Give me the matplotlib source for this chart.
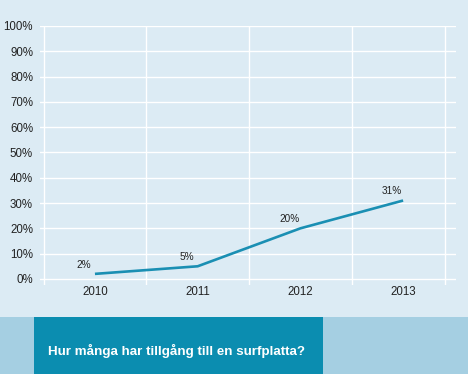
import matplotlib
matplotlib.use("Agg")
import matplotlib.pyplot as plt
from matplotlib.patches import Rectangle

years = ["2010", "2011", "2012", "2013"]
values = [2, 5, 20, 31]
value_labels = ["2%", "5%", "20%", "31%"]
yticks = [0, 10, 20, 30, 40, 50, 60, 70, 80, 90, 100]
title = "Hur många har tillgång till en surfplatta?"

BG = "#dcebf4"
LINE = "#1a8fb3"
TEAL = "#0b8db0"
LIGHT = "#a5cfe2"

plt.rcParams['font.family'] = ['Liberation Sans', 'DejaVu Sans']

W, H = 468, 374
fig = plt.figure(figsize=(W / 100, H / 100), dpi=100)
fig.patch.set_facecolor(BG)

# axes placement in pixels
x0, x1 = 40, 456
ytop, ybot = 26, 285
ax = fig.add_axes([x0 / W, 1 - ybot / H, (x1 - x0) / W, (ybot - ytop) / H])
ax.set_facecolor(BG)
for s in ax.spines.values():
    s.set_visible(False)

xs = list(range(len(years)))
ax.set_xlim(-0.535, 3.515)
ax.set_ylim(-2.4, 100)

# horizontal grid lines
for t in yticks:
    ax.axhline(t, color="white", lw=1.0, zorder=1)
# vertical separators
for vx in [-0.5, 0.5, 1.5, 2.5, 3.41]:
    ax.axvline(vx, ymin=0, ymax=1, color="white", lw=1.0, zorder=1)

ax.plot(xs, values, color=LINE, lw=1.9, solid_capstyle="butt", zorder=3)
for x, v, lab in zip(xs, values, value_labels):
    ax.annotate(lab, (x, v), xytext=(-8, 6.5), textcoords="offset points",
                ha="center", va="center", fontsize=7.2, color="#222222")

ax.set_yticks(yticks)
ax.set_yticklabels([f"{t}%" for t in yticks], fontsize=8.3, color="#222222")
ax.set_xticks(xs)
ax.set_xticklabels(years, fontsize=8.3, color="#222222")
ax.tick_params(axis="both", length=0)
ax.tick_params(axis="y", pad=5)
ax.tick_params(axis="x", pad=1)

# bottom band
band_top = 317
fig.add_artist(Rectangle((0, 0), 1, (H - band_top) / H, transform=fig.transFigure,
                         facecolor=LIGHT, edgecolor="none", zorder=0))
fig.add_artist(Rectangle((34 / W, 0), (323 - 34) / W, (H - band_top) / H,
                         transform=fig.transFigure, facecolor=TEAL,
                         edgecolor="none", zorder=1))
fig.text(48 / W, 1 - 351 / H, title, color="white", fontsize=9.6,
         fontweight="bold", ha="left", va="center", zorder=2)

fig.savefig("out.png", dpi=100, facecolor=BG)
